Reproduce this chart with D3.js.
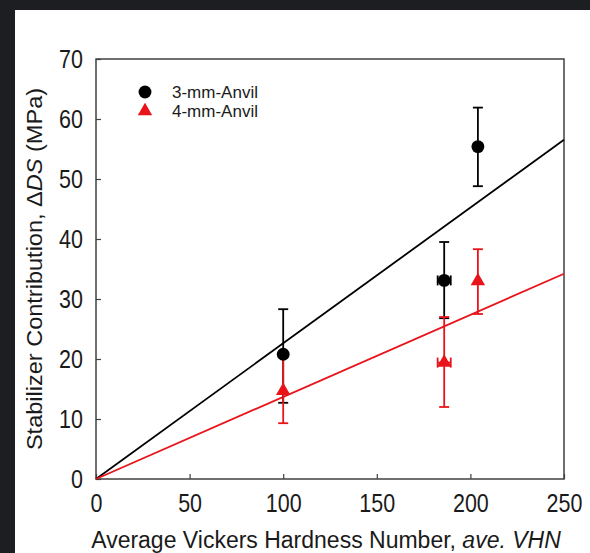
<!DOCTYPE html>
<html>
<head>
<meta charset="utf-8">
<script src="https://cdn.jsdelivr.net/npm/d3@7"></script>
<style>
  html, body { margin: 0; padding: 0; background: #ffffff; }
  svg { display: block; }
  text { font-family: "Liberation Sans", Arial, sans-serif; fill: #1a1a1a; }
</style>
</head>
<body>
<svg id="chart"></svg>
<script>
// data
let hvn = [100, 186, 204];
let hvnErr = [0, 3.5, 0];

let ds3mm = [20.8, 33.1, 55.4];
let ds3mmLow = [12.7, 26.8, 48.8];
let ds3mmHigh = [28.3, 39.5, 61.9];

let ds4mm = [14.7, 19.4, 33.0];
let ds4mmLow = [9.3, 12.0, 27.5];
let ds4mmHigh = [20.5, 27.0, 38.3];

// linear fits through the origin
let fitX = [0, 250];
let slope3mm = 0.2262;
let slope4mm = 0.1368;

let xTicks = [0, 50, 100, 150, 200, 250];
let yTicks = [0, 10, 20, 30, 40, 50, 60, 70];

let legendNames = ["3-mm-Anvil", "4-mm-Anvil"];

function drawChart() {

    let width = 590;
    let height = 553;
    let margin = {top: 59, right: 26, bottom: 74, left: 96};
    let stretch = 1.18; // the source text is a bit taller than wide

    let svg = d3.select("#chart")
        .attr("width", width)
        .attr("height", height);

    // dark frame from the screenshot
    svg.append("rect").attr("x", 0).attr("y", 0).attr("width", width).attr("height", 10).style("fill", "#1c1e21");
    svg.append("rect").attr("x", 0).attr("y", 0).attr("width", 15).attr("height", height).style("fill", "#1c1e21");

    let x = d3.scaleLinear().domain([0, 250]).range([margin.left, width - margin.right]);
    let y = d3.scaleLinear().domain([0, 70]).range([height - margin.bottom, margin.top]);

    let red = "#e8141a";
    let black = "#000000";

    // axes, ticks pointing inside
    let xAxis = svg.append("g")
        .attr("transform", "translate(0," + y(0) + ")")
        .call(d3.axisBottom(x).tickValues(xTicks).tickSizeInner(-5).tickSizeOuter(0).tickPadding(12));
    xAxis.select(".domain").remove();
    xAxis.selectAll("line").style("stroke", "#404040").style("stroke-width", 1.2);
    xAxis.selectAll("text")
        .attr("y", 14.5 / stretch)
        .attr("transform", "scale(1," + stretch + ")")
        .style("font-size", "21.5px")
        .style("fill", "#1a1a1a");

    let yAxis = svg.append("g")
        .attr("transform", "translate(" + x(0) + ",0)")
        .call(d3.axisLeft(y).tickValues(yTicks).tickSizeInner(-5).tickSizeOuter(0).tickPadding(13));
    yAxis.select(".domain").remove();
    yAxis.selectAll("line").style("stroke", "#404040").style("stroke-width", 1.2);
    yAxis.selectAll("text")
        .attr("transform", "scale(1," + stretch + ")")
        .style("font-size", "21.5px")
        .style("fill", "#1a1a1a");

    // plot frame
    svg.append("rect")
        .attr("x", x(0))
        .attr("y", y(70))
        .attr("width", x(250) - x(0))
        .attr("height", y(0) - y(70))
        .style("fill", "none")
        .style("stroke", "#404040")
        .style("stroke-width", 1.5);

    // fit lines
    let line = d3.line().x(d => x(d[0])).y(d => y(d[1]));
    svg.append("path")
        .datum(fitX.map(v => [v, v * slope3mm]))
        .attr("d", line)
        .style("fill", "none").style("stroke", black).style("stroke-width", 1.8);
    svg.append("path")
        .datum(fitX.map(v => [v, v * slope4mm]))
        .attr("d", line)
        .style("fill", "none").style("stroke", red).style("stroke-width", 1.8);

    function errorBars(vals, lows, highs, color) {
        let g = svg.append("g").style("stroke", color).style("stroke-width", 1.8);
        hvn.forEach(function(h, i) {
            let cx = x(h);
            g.append("line").attr("x1", cx).attr("x2", cx).attr("y1", y(lows[i])).attr("y2", y(highs[i]));
            g.append("line").attr("x1", cx - 5).attr("x2", cx + 5).attr("y1", y(lows[i])).attr("y2", y(lows[i]));
            g.append("line").attr("x1", cx - 5).attr("x2", cx + 5).attr("y1", y(highs[i])).attr("y2", y(highs[i]));
            if (hvnErr[i] > 0) {
                let cy = y(vals[i]);
                let x0 = x(h - hvnErr[i]);
                let x1 = x(h + hvnErr[i]);
                g.append("line").attr("x1", x0).attr("x2", x1).attr("y1", cy).attr("y2", cy);
                g.append("line").attr("x1", x0).attr("x2", x0).attr("y1", cy - 5).attr("y2", cy + 5);
                g.append("line").attr("x1", x1).attr("x2", x1).attr("y1", cy - 5).attr("y2", cy + 5);
            }
        });
    }

    errorBars(ds3mm, ds3mmLow, ds3mmHigh, black);
    errorBars(ds4mm, ds4mmLow, ds4mmHigh, red);

    let circle = d3.symbol().type(d3.symbolCircle).size(130);
    let triangle = d3.symbol().type(d3.symbolTriangle).size(90);

    svg.append("g").selectAll("path")
        .data(hvn)
        .enter()
        .append("path")
        .attr("d", circle)
        .attr("transform", (d, i) => "translate(" + x(d) + "," + y(ds3mm[i]) + ")")
        .style("fill", black);

    svg.append("g").selectAll("path")
        .data(hvn)
        .enter()
        .append("path")
        .attr("d", triangle)
        .attr("transform", (d, i) => "translate(" + x(d) + "," + y(ds4mm[i]) + ")")
        .style("fill", red);

    // legend
    let legend = svg.append("g").attr("transform", "translate(145,92)");
    legend.append("path").attr("d", circle).style("fill", black);
    legend.append("path").attr("d", triangle).attr("transform", "translate(0,19)").style("fill", red);
    legend.selectAll("text")
        .data(legendNames)
        .enter()
        .append("text")
        .attr("x", 27)
        .attr("y", (d, i) => i * 19)
        .attr("dy", "0.36em")
        .style("font-size", "17px")
        .text(d => d);

    // axis titles
    let xTitle = svg.append("text")
        .attr("x", 326)
        .attr("y", 548)
        .style("text-anchor", "middle")
        .style("font-size", "23px");
    xTitle.append("tspan").text("Average Vickers Hardness Number, ");
    xTitle.append("tspan").style("font-style", "italic").text("ave. VHN");

    let yTitle = svg.append("text")
        .attr("transform", "translate(42," + y(35) + ") rotate(-90) scale(1.07,1)")
        .style("text-anchor", "middle")
        .style("font-size", "22px");
    yTitle.append("tspan").text("Stabilizer Contribution, \u0394");
    yTitle.append("tspan").style("font-style", "italic").text("DS");
    yTitle.append("tspan").text(" (MPa)");
}

drawChart();
</script>
</body>
</html>
